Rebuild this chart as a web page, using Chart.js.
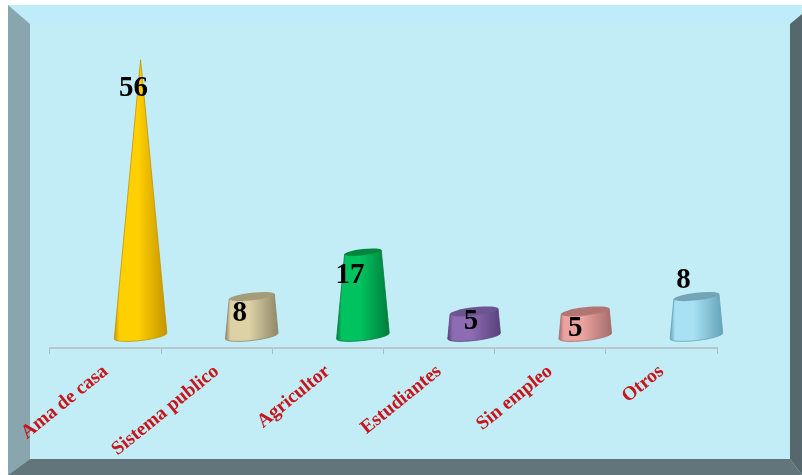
<!DOCTYPE html>
<html>
<head>
<meta charset="utf-8">
<style>html,body{margin:0;padding:0;background:#fff}canvas{display:block;filter:blur(0.5px)}</style>
<script src="https://cdn.jsdelivr.net/npm/chart.js@4/dist/chart.umd.min.js"></script>
</head>
<body>
<canvas id="c" width="802" height="475"></canvas>
<script>
const categories = ["Ama de casa", "Sistema publico", "Agricultor", "Estudiantes", "Sin empleo", "Otros"];
const values = [56, 8, 17, 5, 5, 8];
const sideMid = ["#ffd000", "#ddd1a6", "#00c25e", "#8e6cb3", "#eba3a0", "#a8e0f4"];
const sideEdge = ["#c49400", "#8f8767", "#007c3c", "#59417a", "#a56c6a", "#64a3b8"];
const topFill = ["#d9a800", "#a59d7a", "#00853f", "#6d5590", "#b37573", "#73a5b6"];
const labelDX = [-7, -12, -13, -3, -10, -13];
const labelDY = [29, 17, 23, 10, 17, -16];
const DEPTH_X = 35, DEPTH_Y = 12, TILT = -6.5 * Math.PI / 180;

const framePlugin = {
  id: "frame",
  beforeDraw(chart) {
    const c = chart.ctx;
    const poly = (pts, col) => {
      c.fillStyle = col; c.beginPath();
      pts.forEach((p, i) => i ? c.lineTo(p[0], p[1]) : c.moveTo(p[0], p[1]));
      c.closePath(); c.fill();
    };
    c.save();
    c.fillStyle = "#ffffff"; c.fillRect(0, 0, 802, 475);
    poly([[8, 5], [802, 5], [802, 475], [8, 475]], "#c2edf6");
    poly([[8, 5], [802, 5], [790, 24], [30, 24]], "#bfecfb");
    poly([[8, 5], [30, 24], [30, 459], [8, 475]], "#89a6af");
    poly([[790, 24], [802, 14], [802, 475], [790, 459]], "#56686d");
    poly([[8, 475], [30, 459], [790, 459], [802, 475]], "#62757a");
    c.restore();
  }
};

const conePlugin = {
  id: "cone",
  beforeDatasetDraw(chart, args) {
    const meta = chart.getDatasetMeta(args.index);
    const c = chart.ctx;
    const apex = Math.max(...values);
    meta.data.forEach((bar, i) => {
      const cx = bar.x + DEPTH_X, by = bar.base - DEPTH_Y, ty = bar.y - DEPTH_Y;
      const rb = bar.width / 2, rt = rb * (1 - values[i] / apex);
      const ryb = 4.5, ryt = 4.5 * Math.max(rt / rb, 0);
      const g = c.createLinearGradient(cx - rb, 0, cx + rb, 0);
      g.addColorStop(0, sideEdge[i]);
      g.addColorStop(0.1, sideMid[i]);
      g.addColorStop(0.45, sideMid[i]);
      g.addColorStop(1, sideEdge[i]);
      c.save();
      c.beginPath();
      c.ellipse(cx, by, rb, ryb, TILT, 0, Math.PI);
      c.lineTo(cx - rt * Math.cos(TILT), ty - rt * Math.sin(TILT));
      c.lineTo(cx + rt * Math.cos(TILT), ty + rt * Math.sin(TILT));
      c.closePath();
      c.fillStyle = g; c.fill();
      c.strokeStyle = sideEdge[i]; c.lineWidth = 0.8; c.stroke();
      if (rt > 0) {
        c.beginPath();
        c.ellipse(cx, ty, rt, ryt, TILT, 0, Math.PI * 2);
        c.fillStyle = topFill[i]; c.fill();
      }
      c.restore();
    });
    return false;
  },
  afterDatasetsDraw(chart) {
    const meta = chart.getDatasetMeta(0);
    const c = chart.ctx;
    c.save();
    c.font = "bold 29px 'Liberation Serif'";
    c.fillStyle = "#000";
    c.textAlign = "center"; c.textBaseline = "middle";
    meta.data.forEach((bar, i) => {
      c.fillText(String(values[i]), bar.x + DEPTH_X + labelDX[i], bar.y - DEPTH_Y + labelDY[i]);
    });
    c.restore();
  }
};

new Chart(document.getElementById("c"), {
  type: "bar",
  data: {
    labels: categories,
    datasets: [{ data: values, backgroundColor: sideMid, barThickness: 53 }]
  },
  options: {
    responsive: false,
    animation: false,
    devicePixelRatio: 1,
    layout: { padding: { left: 50, right: 85, top: 52, bottom: 0 } },
    plugins: { legend: { display: false }, tooltip: { enabled: false } },
    scales: {
      y: { display: false, min: 0, max: 60 },
      x: {
        afterFit(s) { s.height = 127; s.paddingLeft = 0; s.paddingRight = 0; },
        border: { color: "#b3c7cd", width: 2 },
        grid: { drawOnChartArea: false, drawTicks: true, tickLength: 6, color: "#a9bcc2", tickWidth: 1, offset: true },
        ticks: {
          autoSkip: false, minRotation: 39, maxRotation: 39, padding: 6,
          color: "#c8151b",
          font: { family: "'Liberation Serif'", weight: "bold", size: 19.5 }
        }
      }
    }
  },
  plugins: [framePlugin, conePlugin]
});
</script>
</body>
</html>
